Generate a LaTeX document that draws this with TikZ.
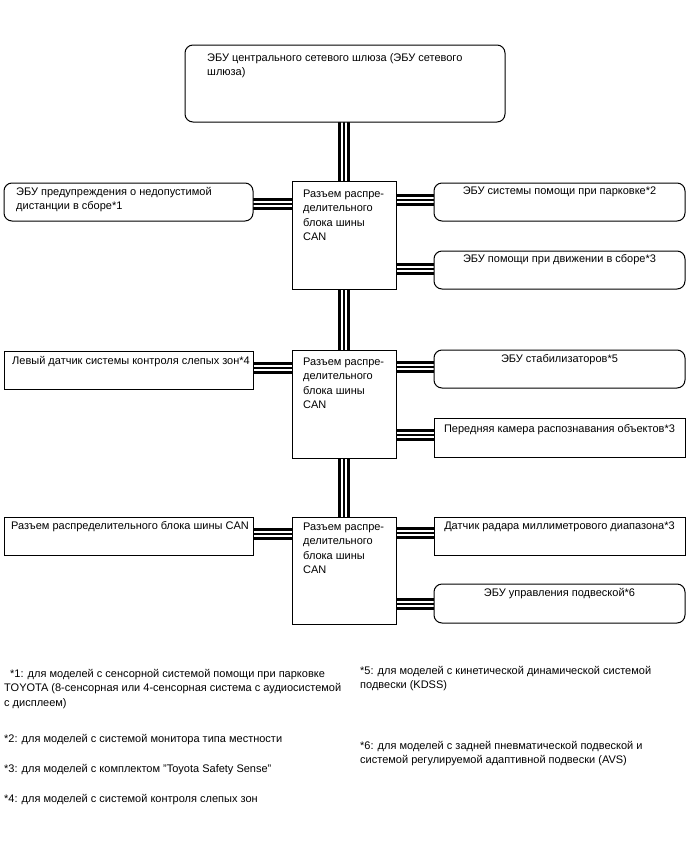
\documentclass[tikz,border=0pt]{standalone}
\usepackage{fontspec}
\setmainfont{Liberation Sans}
\usetikzlibrary{backgrounds}
\newcommand{\mylines}[1]{\begin{tabular}[t]{@{}l@{}}#1\end{tabular}}
\begin{document}
\begin{tikzpicture}[x=1pt,y=-1pt,
  box/.style={draw=black, line width=1pt, fill=white, anchor=north west, inner sep=0pt, outer sep=0pt},
  rbox/.style={box, rounded corners=8pt},
  bus/.style={line width=12pt, draw=black, postaction={draw=white, line width=6.5pt}, postaction={draw=black, line width=1.4pt}},
  txt/.style={anchor=base west, inner sep=0pt, font=\fontsize{11}{14.5}\selectfont},
  ctxt/.style={anchor=base, inner sep=0pt, font=\fontsize{11}{14.5}\selectfont},
  note/.style={anchor=base west, inner sep=0pt, font=\fontsize{11}{14.5}\selectfont}]
\useasboundingbox (0,0) rectangle (688,852);

% boxes
\node[rbox, minimum width=320pt, minimum height=77pt] (top) at (185,45) {};
\node[box, minimum width=104pt, minimum height=108pt] (cA) at (292,181) {};
\node[box, minimum width=104pt, minimum height=108pt] (cB) at (292,350) {};
\node[box, minimum width=104pt, minimum height=107pt] (cC) at (292,517) {};
\node[rbox, minimum width=249pt, minimum height=38pt] (lb1) at (4,183) {};
\node[box, minimum width=249pt, minimum height=38pt] (lb2) at (4,351) {};
\node[box, minimum width=249pt, minimum height=38pt] (lb3) at (4,517) {};
\node[rbox, minimum width=251pt, minimum height=38pt] (rb1) at (434,183) {};
\node[rbox, minimum width=251pt, minimum height=38pt] (rb2) at (434,251) {};
\node[rbox, minimum width=251pt, minimum height=38pt] (rb3) at (434,350) {};
\node[box, minimum width=251pt, minimum height=39pt] (rb4) at (434,418) {};
\node[box, minimum width=251pt, minimum height=38pt] (rb5) at (434,517) {};
\node[rbox, minimum width=251pt, minimum height=39pt] (rb6) at (434,584) {};

% texts
\node[txt] (topt) at (207,61) {\mylines{ЭБУ центрального сетевого шлюза (ЭБУ сетевого\\шлюза)}};
\node[txt] (lb1t) at (16,195) {\mylines{ЭБУ предупреждения о недопустимой\\дистанции в сборе*1}};
\node[txt] (lb2t) at (12,364) {Левый датчик системы контроля слепых зон*4};
\node[txt] (lb3t) at (11,529) {Разъем распределительного блока шины CAN};
\node[ctxt] (rb1t) at (559.5,194) {ЭБУ системы помощи при парковке*2};
\node[ctxt] (rb2t) at (559.5,262) {ЭБУ помощи при движении в сборе*3};
\node[ctxt] (rb3t) at (559.5,362) {ЭБУ стабилизаторов*5};
\node[ctxt] (rb4t) at (559.5,432) {Передняя камера распознавания объектов*3};
\node[ctxt] (rb5t) at (559.5,529) {Датчик радара миллиметрового диапазона*3};
\node[ctxt] (rb6t) at (559.5,596) {ЭБУ управления подвеской*6};
\node[txt] (cAt) at (303,197) {\mylines{Разъем распре-\\делительного\\блока шины\\CAN}};
\node[txt] (cBt) at (303,365) {\mylines{Разъем распре-\\делительного\\блока шины\\CAN}};
\node[txt] (cCt) at (303,530) {\mylines{Разъем распре-\\делительного\\блока шины\\CAN}};

% footnotes
\node[note] (n1) at (4,677) {\mylines{\hspace*{6pt}*1: для моделей с сенсорной системой помощи при парковке\\TOYOTA (8-сенсорная или 4-сенсорная система с аудиосистемой\\с дисплеем)}};
\node[note] (n2) at (4,742) {*2: для моделей с системой монитора типа местности};
\node[note] (n3) at (4,772) {*3: для моделей с комплектом "Toyota Safety Sense"};
\node[note] (n4) at (4,802) {*4: для моделей с системой контроля слепых зон};
\node[note] (n5) at (360,674) {\mylines{*5: для моделей с кинетической динамической системой\\подвески (KDSS)}};
\node[note] (n6) at (360,749) {\mylines{*6: для моделей с задней пневматической подвеской и\\системой регулируемой адаптивной подвески (AVS)}};

% buses
\begin{scope}[on background layer]
\fill[white] (0,0) rectangle (688,852);
\draw[bus] (top.south -| cA.north) -- (cA.north);
\draw[bus] (cA.south) -- (cB.north);
\draw[bus] (cB.south) -- (cC.north);
\draw[bus] (lb1.east |- 0,204) -- (cA.west |- 0,204);
\draw[bus] (cA.east |- 0,200) -- (rb1.west |- 0,200);
\draw[bus] (cA.east |- 0,269) -- (rb2.west |- 0,269);
\draw[bus] (lb2.east |- 0,368) -- (cB.west |- 0,368);
\draw[bus] (cB.east |- 0,367) -- (rb3.west |- 0,367);
\draw[bus] (cB.east |- 0,435) -- (rb4.west |- 0,435);
\draw[bus] (lb3.east |- 0,534) -- (cC.west |- 0,534);
\draw[bus] (cC.east |- 0,533) -- (rb5.west |- 0,533);
\draw[bus] (cC.east |- 0,604) -- (rb6.west |- 0,604);
\end{scope}
\end{tikzpicture}
\end{document}
